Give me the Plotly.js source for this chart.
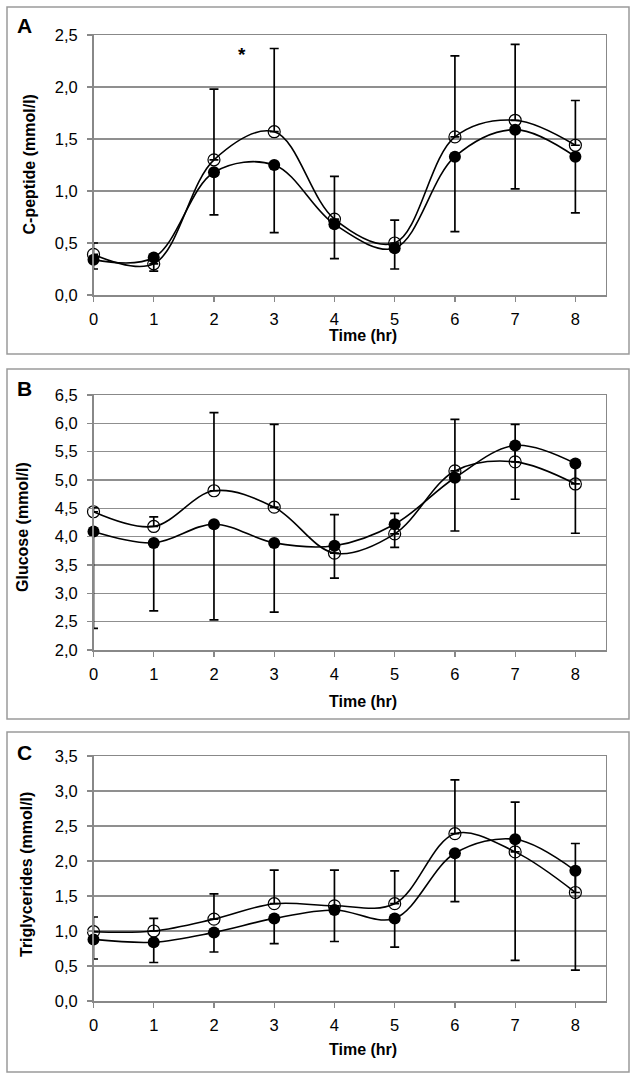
<!DOCTYPE html>
<html>
<head>
<meta charset="utf-8">
<script src="https://cdn.plot.ly/plotly-3.0.1.min.js"></script>
<style>html,body{margin:0;padding:0;background:#fff;}#chart{width:638px;height:1077px;}</style>
</head>
<body>
<div id="chart"></div>
<script>
// Time points (hr)
const timeHr = [0, 1, 2, 3, 4, 5, 6, 7, 8];
const xTickLabels = ['0','1','2','3','4','5','6','7','8'];

// Panel A: C-peptide (mmol/l)
const cpepOpen = [0.39, 0.30, 1.30, 1.57, 0.73, 0.50, 1.52, 1.68, 1.44];
const cpepFilled = [0.34, 0.36, 1.18, 1.25, 0.68, 0.45, 1.33, 1.59, 1.33];
const cpepOpenErrUp = [0.11, 0.07, 0.68, 0.80, 0.41, 0.22, 0.78, 0.73, 0.43];
const cpepFilledErrDown = [0.09, 0.13, 0.41, 0.65, 0.33, 0.20, 0.72, 0.57, 0.54];

// Panel B: Glucose (mmol/l)
const glucOpen = [4.44, 4.18, 4.81, 4.52, 3.71, 4.05, 5.16, 5.32, 4.93];
const glucFilled = [4.09, 3.89, 4.22, 3.89, 3.84, 4.22, 5.04, 5.61, 5.29];
const glucOpenErrUp = [0.07, 0.17, 1.38, 1.46, 0.68, 0.36, 0.91, 0.66, 0.37];
const glucFilledErrDown = [1.71, 1.20, 1.69, 1.22, 0.57, 0.41, 0.94, 0.95, 1.23];

// Panel C: Triglycerides (mmol/l)
const trigOpen = [0.99, 1.00, 1.17, 1.39, 1.36, 1.39, 2.39, 2.13, 1.55];
const trigFilled = [0.88, 0.84, 0.98, 1.18, 1.30, 1.18, 2.11, 2.31, 1.86];
const trigOpenErrUp = [0.21, 0.18, 0.36, 0.48, 0.51, 0.47, 0.77, 0.71, 0.70];
const trigFilledErrDown = [0.28, 0.29, 0.28, 0.36, 0.45, 0.41, 0.69, 1.73, 1.42];

const panelLetters = ['A', 'B', 'C'];
const yTitles = ['C-peptide (mmol/l)', 'Glucose (mmol/l)', 'Triglycerides (mmol/l)'];
const xTitle = 'Time (hr)';
const sigMark = {x: 2.46, y: 2.31, text: '*'};

const W = 638, H = 1077;
const FONT = 'Liberation Sans, Arial, Helvetica, sans-serif';

function zeros(a){ return a.map(function(){ return 0; }); }

function pair(open, filled, upErr, downErr, xa, ya){
  const line = {color: '#000', width: 1.6, shape: 'spline', smoothing: 1};
  return [
    {x: timeHr, y: open, xaxis: xa, yaxis: ya, type: 'scatter', mode: 'lines+markers',
     line: line, cliponaxis: false,
     marker: {symbol: 'circle-open', size: 12, color: '#000', line: {width: 1.2, color: '#000'}},
     error_y: {type: 'data', symmetric: false, array: upErr, arrayminus: zeros(upErr),
               color: '#000', thickness: 1.7, width: 4.5},
     showlegend: false, hoverinfo: 'skip'},
    {x: timeHr, y: filled, xaxis: xa, yaxis: ya, type: 'scatter', mode: 'lines+markers',
     line: line, cliponaxis: false,
     marker: {symbol: 'circle', size: 12, color: '#000'},
     error_y: {type: 'data', symmetric: false, array: zeros(downErr), arrayminus: downErr,
               color: '#000', thickness: 1.7, width: 4.5},
     showlegend: false, hoverinfo: 'skip'}
  ];
}

const data = [].concat(
  pair(cpepOpen, cpepFilled, cpepOpenErrUp, cpepFilledErrDown, 'x', 'y'),
  pair(glucOpen, glucFilled, glucOpenErrUp, glucFilledErrDown, 'x2', 'y2'),
  pair(trigOpen, trigFilled, trigOpenErrUp, trigFilledErrDown, 'x3', 'y3')
);

// pixel layout
const plotLeft = 93.5, plotRight = 605.5;
const plots = [
  {top: 35, bottom: 295, yr: [0, 2.5], box: [7, 7, 629, 354], letterY: 25.5, yTitleX: 28.5, yTitleY: 165, xTitleY: 336},
  {top: 395, bottom: 650, yr: [2, 6.5], box: [7, 369, 629, 719], letterY: 388.5, yTitleX: 22, yTitleY: 527, xTitleY: 701},
  {top: 756, bottom: 1001, yr: [0, 3.5], box: [7, 732, 629, 1072], letterY: 752, yTitleX: 26, yTitleY: 875, xTitleY: 1049}
];
function px(x){ return x / W; }
function py(y){ return 1 - y / H; }

const layout = {
  width: W, height: H,
  margin: {l: 0, r: 0, t: 0, b: 0},
  paper_bgcolor: '#fff', plot_bgcolor: '#fff',
  separators: ',.',
  font: {family: FONT, size: 16, color: '#000'},
  showlegend: false,
  shapes: [], annotations: []
};

plots.forEach(function(p, i){
  const sx = i === 0 ? '' : String(i + 1);
  layout['xaxis' + sx] = {
    domain: [px(plotLeft), px(plotRight)],
    anchor: 'y' + sx,
    range: [0, 8.5],
    tickmode: 'array', tickvals: timeHr, ticktext: xTickLabels,
    ticks: 'outside', ticklen: 5, tickcolor: '#888', tickwidth: 1.2,
    showline: true, linecolor: '#888', linewidth: 1.5, mirror: true,
    showgrid: false, zeroline: false,
    tickfont: {family: FONT, size: 16.5, color: '#000'},
    ticklabelstandoff: 4,
    fixedrange: true
  };
  layout['yaxis' + sx] = {
    domain: [py(p.bottom), py(p.top)],
    anchor: 'x' + sx,
    range: p.yr, dtick: 0.5, tick0: 0, tickformat: '.1f',
    ticks: 'outside', ticklen: 5, tickcolor: '#888', tickwidth: 1.2,
    showline: true, linecolor: '#888', linewidth: 1.5, mirror: true,
    showgrid: true, gridcolor: '#8f8f8f', gridwidth: 1.3,
    zeroline: false,
    tickfont: {family: FONT, size: 16.5, color: '#000'},
    ticklabelstandoff: 6,
    fixedrange: true
  };
  const b = p.box;
  layout.shapes.push({type: 'rect', xref: 'paper', yref: 'paper',
    x0: px(b[0]), x1: px(b[2]), y0: py(b[3]), y1: py(b[1]),
    line: {color: '#9a9a9a', width: 1.5}, fillcolor: 'rgba(0,0,0,0)', layer: 'below'});
  layout.annotations.push({xref: 'paper', yref: 'paper', x: px(24.5), y: py(p.letterY),
    text: '<b>' + panelLetters[i] + '</b>', showarrow: false, xanchor: 'center', yanchor: 'middle',
    font: {family: FONT, size: 21, color: '#000'}});
  layout.annotations.push({xref: 'paper', yref: 'paper', x: px(p.yTitleX), y: py(p.yTitleY),
    text: '<b>' + yTitles[i] + '</b>', textangle: -90, showarrow: false,
    xanchor: 'center', yanchor: 'middle',
    font: {family: FONT, size: 16, color: '#000'}});
  layout.annotations.push({xref: 'paper', yref: 'paper', x: px(363), y: py(p.xTitleY),
    text: '<b>' + xTitle + '</b>', showarrow: false, xanchor: 'center', yanchor: 'middle',
    font: {family: FONT, size: 16, color: '#000'}});
});

layout.annotations.push({xref: 'x', yref: 'y', x: sigMark.x, y: sigMark.y,
  text: '<b>' + sigMark.text + '</b>', showarrow: false, xanchor: 'center', yanchor: 'middle',
  font: {family: FONT, size: 19, color: '#000'}});

Plotly.newPlot('chart', data, layout, {staticPlot: true, displayModeBar: false});
</script>
</body>
</html>
